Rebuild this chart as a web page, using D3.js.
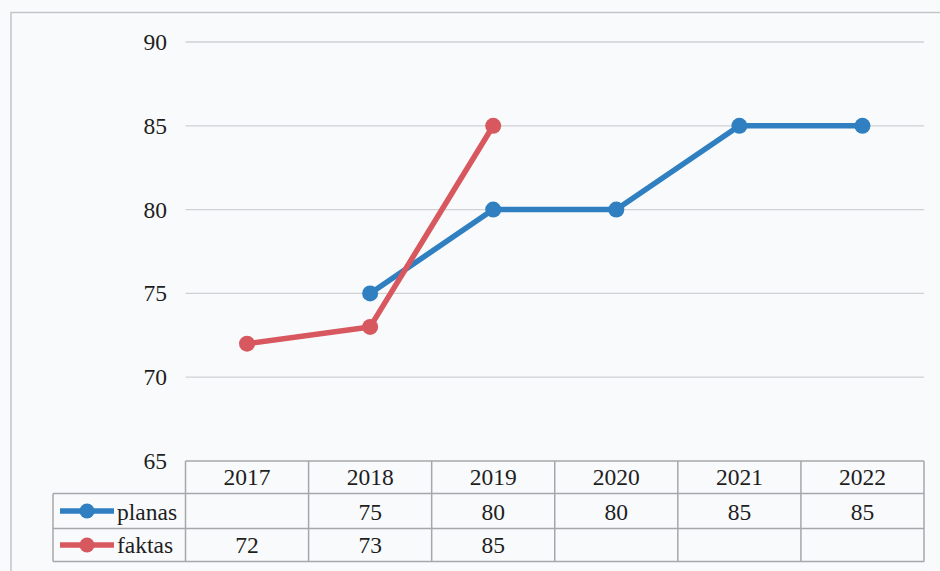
<!DOCTYPE html>
<html>
<head>
    <title>planas / faktas</title>
    <script src="https://d3js.org/d3.v7.min.js"></script>
    <style>
        body {
            margin: 0;
            background: #f9fafc;
        }
        svg text {
            font-family: 'Liberation Serif', Tinos, 'Times New Roman' !important;
        }
    </style>
</head>
<body>
<script>
    // chart data
    const years = ["2017", "2018", "2019", "2020", "2021", "2022"];
    const planas = [null, 75, 80, 80, 85, 85];
    const faktas = [72, 73, 85, null, null, null];
    const yTicks = [65, 70, 75, 80, 85, 90];

    const series = [
        { name: "planas", values: planas, color: "#2f7fc1" },
        { name: "faktas", values: faktas, color: "#d7585e" }
    ];

    const width = 940, height = 571;
    const plotLeft = 185.5, plotRight = 924;
    const plotTop = 42, plotBottom = 461;
    const textStyle = "font-family: 'Liberation Serif' !important; font-size: 23.5px; fill: #1e1e1e";

    const svg = d3.select("body")
        .append("svg")
        .attr("width", width)
        .attr("height", height);

    // outer frame of the scanned chart
    svg.append("path")
        .attr("d", `M11,${height} L11,12.5 L${width},12.5`)
        .attr("fill", "none")
        .attr("stroke", "#c4c5c8")
        .attr("stroke-width", 1.5);

    const x = d3.scaleBand()
        .domain(years)
        .range([plotLeft, plotRight])
        .padding(0);

    const y = d3.scaleLinear()
        .domain([65, 90])
        .range([plotBottom, plotTop]);

    // gridlines
    svg.append("g")
        .selectAll("line")
        .data(yTicks.filter(d => d > 65))
        .enter()
        .append("line")
        .attr("x1", plotLeft)
        .attr("x2", plotRight)
        .attr("y1", d => y(d))
        .attr("y2", d => y(d))
        .attr("stroke", "#cfd1d4")
        .attr("stroke-width", 1.3);

    // y tick labels
    svg.append("g")
        .selectAll("text")
        .data(yTicks)
        .enter()
        .append("text")
        .attr("x", 167)
        .attr("y", d => y(d) + 8)
        .attr("text-anchor", "end")
        .attr("style", textStyle)
        .text(d => d);

    // lines and markers
    const line = d3.line()
        .defined(d => d.v !== null)
        .x(d => x(d.year) + x.bandwidth() / 2)
        .y(d => y(d.v));

    series.forEach(s => {
        const pts = years.map((yr, i) => ({ year: yr, v: s.values[i] }));
        svg.append("path")
            .datum(pts)
            .attr("d", line)
            .attr("fill", "none")
            .attr("stroke", s.color)
            .attr("stroke-width", 5.5)
            .attr("stroke-linejoin", "round");

        svg.append("g")
            .selectAll("circle")
            .data(pts.filter(d => d.v !== null))
            .enter()
            .append("circle")
            .attr("cx", d => x(d.year) + x.bandwidth() / 2)
            .attr("cy", d => y(d.v))
            .attr("r", 8)
            .attr("fill", s.color);
    });

    // data table under the plot
    const rowTop = [461, 493.5, 528.5];
    const rowBottom = 561.5;
    const legendLeft = 53;
    const table = svg.append("g")
        .attr("stroke", "#a5a7aa")
        .attr("stroke-width", 1.5);

    table.append("line")
        .attr("x1", plotLeft).attr("x2", plotRight)
        .attr("y1", rowTop[0]).attr("y2", rowTop[0]);
    [rowTop[1], rowTop[2], rowBottom].forEach(yy => {
        table.append("line")
            .attr("x1", legendLeft).attr("x2", plotRight)
            .attr("y1", yy).attr("y2", yy);
    });
    table.append("line")
        .attr("x1", legendLeft).attr("x2", legendLeft)
        .attr("y1", rowTop[1]).attr("y2", rowBottom);
    years.concat(["end"]).forEach((yr, i) => {
        const xx = i < years.length ? x(yr) : plotRight;
        table.append("line")
            .attr("x1", xx).attr("x2", xx)
            .attr("y1", rowTop[0]).attr("y2", rowBottom);
    });

    // header years
    svg.append("g")
        .selectAll("text")
        .data(years)
        .enter()
        .append("text")
        .attr("x", d => x(d) + x.bandwidth() / 2)
        .attr("y", 485)
        .attr("text-anchor", "middle")
        .attr("style", textStyle)
        .text(d => d);

    // series rows
    const baselines = [520, 553];
    series.forEach((s, r) => {
        const cy = (rowTop[r + 1] + (r === 0 ? rowTop[2] : rowBottom)) / 2;
        svg.append("line")
            .attr("x1", 60).attr("x2", 114)
            .attr("y1", cy).attr("y2", cy)
            .attr("stroke", s.color)
            .attr("stroke-width", 5.5);
        svg.append("circle")
            .attr("cx", 87).attr("cy", cy)
            .attr("r", 7.5)
            .attr("fill", s.color);
        svg.append("text")
            .attr("x", 117)
            .attr("y", baselines[r])
            .attr("style", textStyle)
            .text(s.name);

        svg.append("g")
            .selectAll("text")
            .data(years.map((yr, i) => ({ year: yr, v: s.values[i] })).filter(d => d.v !== null))
            .enter()
            .append("text")
            .attr("x", d => x(d.year) + x.bandwidth() / 2)
            .attr("y", baselines[r])
            .attr("text-anchor", "middle")
            .attr("style", textStyle)
            .text(d => d.v);
    });
</script>
</body>
</html>
